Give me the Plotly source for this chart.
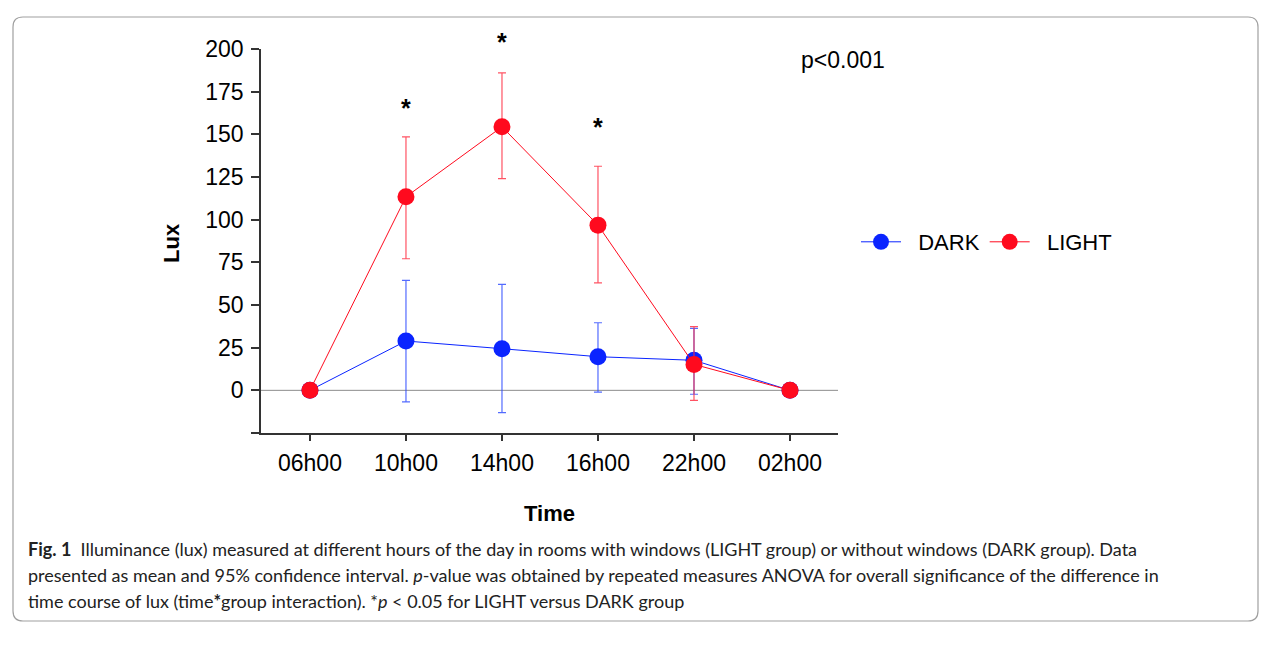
import plotly.graph_objects as go

times = ["06h00", "10h00", "14h00", "16h00", "22h00", "02h00"]

dark_mean = [0, 28.9, 24.4, 19.7, 17.6, 0]
dark_upper = [0, 64.4, 62.1, 39.6, 36.3, 0]
dark_lower = [0, -6.8, -13.1, -1.0, -2.3, 0]

light_mean = [0, 113.4, 154.4, 96.8, 15.2, 0]
light_upper = [0, 148.5, 186.0, 131.3, 37.3, 0]
light_lower = [0, 77.1, 124.1, 63.0, -5.9, 0]

star_times = ["10h00", "14h00", "16h00"]
star_y = [175, 213.5, 163.5]

ytick_vals = [-25, 0, 25, 50, 75, 100, 125, 150, 175, 200]
ytick_text = ["", "0", "25", "50", "75", "100", "125", "150", "175", "200"]

caption_lines = [
    "<b>Fig. 1</b>  Illuminance (lux) measured at different hours of the day in rooms with windows (LIGHT group) or without windows (DARK group). Data",
    "presented as mean and 95% confidence interval. <i>p</i>-value was obtained by repeated measures ANOVA for overall significance of the difference in",
    "time course of lux (time<b>*</b>group interaction). *<i>p</i> < 0.05 for LIGHT versus DARK group",
]

OFF = 8  # browser body margin
W, H = 1280 - OFF, 655 - OFF
L, R, T, B = 261 - OFF, 1280 - 838, 49 - OFF, 655 - 433
PW, PH = W - L - R, H - T - B

YMIN, YMAX = -25, 200


def px(x):
    return (x - OFF - L) / PW


def py(y):
    return (H - B - (y - OFF)) / PH


def ydata_to_paper(v):
    return (v - YMIN) / (YMAX - YMIN)


BLUE = "#0a24ff"
RED = "#ff0a1e"
FONT = "Liberation Sans, Arial, sans-serif"
NB = "\u00a0"

fig = go.Figure()

for name, mean, up, lo, col, ecol in [
    ("DARK", dark_mean, dark_upper, dark_lower, BLUE, "rgba(40,70,255,0.8)"),
    ("LIGHT", light_mean, light_upper, light_lower, RED, "rgba(255,40,60,0.8)"),
]:
    fig.add_trace(go.Scatter(
        x=times, y=mean, name=NB * 2 + name, mode="lines+markers",
        line=dict(color=col, width=1),
        marker=dict(color=col, size=17),
        error_y=dict(type="data", symmetric=False,
                     array=[u - m for u, m in zip(up, mean)],
                     arrayminus=[m - l for m, l in zip(mean, lo)],
                     color=ecol, thickness=1.2, width=4),
    ))

for t, y in zip(star_times, star_y):
    fig.add_annotation(x=t, y=ydata_to_paper(y), xref="x", yref="paper", text="<b>*</b>",
                       showarrow=False, font=dict(family=FONT, size=25, color="black"))

fig.add_annotation(x=px(799), y=py(60), xref="paper", yref="paper", text="p<0.001",
                   xanchor="left", yanchor="middle", showarrow=False,
                   font=dict(family=FONT, size=23, color="black"))

fig.add_annotation(x=px(549), y=py(513), xref="paper", yref="paper", text="<b>Time</b>",
                   showarrow=False, xanchor="center", yanchor="middle",
                   font=dict(family=FONT, size=22, color="black"))
fig.add_annotation(x=px(172), y=py(243), xref="paper", yref="paper", text="<b>Lux</b>",
                   showarrow=False, textangle=-90, xanchor="center", yanchor="middle",
                   font=dict(family=FONT, size=22, color="black"))

for i, line in enumerate(caption_lines):
    fig.add_annotation(x=px(26), y=py(549 + 26 * i), xref="paper", yref="paper", text=line,
                       showarrow=False, xanchor="left", yanchor="middle",
                       font=dict(family="Lato, sans-serif", size=18, color="#222"))

# zero reference line
fig.add_shape(type="line", xref="paper", yref="y", x0=0, x1=1, y0=0, y1=0,
              line=dict(color="#8c8c8c", width=1), layer="below")

# rounded border
x0, x1, y0, y1, r = px(13), px(1258), py(17), py(621), 10
rx, ry = r / PW, r / PH
path = (f"M {x0+rx},{y0} L {x1-rx},{y0} Q {x1},{y0} {x1},{y0-ry} "
        f"L {x1},{y1+ry} Q {x1},{y1} {x1-rx},{y1} L {x0+rx},{y1} Q {x0},{y1} {x0},{y1+ry} "
        f"L {x0},{y0-ry} Q {x0},{y0} {x0+rx},{y0} Z")
fig.add_shape(type="path", xref="paper", yref="paper", path=path,
              line=dict(color="#a0a0a0", width=1.2), layer="below")

fig.update_layout(
    width=W, height=H,
    margin=dict(l=L, r=R, t=T, b=B, autoexpand=False),
    plot_bgcolor="white", paper_bgcolor="white",
    font=dict(family=FONT, size=23, color="black"),
    showlegend=True,
    legend=dict(orientation="h", x=px(856), y=py(242), xanchor="left", yanchor="middle",
                font=dict(family=FONT, size=22, color="black"), itemwidth=40,
                bgcolor="rgba(0,0,0,0)", tracegroupgap=0),
    xaxis=dict(type="category", range=[-0.51, 5.5], showline=True, linecolor="#333",
               linewidth=1.5, ticks="outside", ticklen=6, tickcolor="#333", tickwidth=1.5,
               showgrid=False, zeroline=False, ticklabelstandoff=3,
               tickfont=dict(family=FONT, size=23, color="black")),
    yaxis=dict(range=[YMIN, YMAX], showline=True, linecolor="#333", linewidth=1.5,
               ticks="outside", ticklen=8, tickcolor="#333", tickwidth=1.5,
               tickvals=ytick_vals, ticktext=ytick_text, showgrid=False, zeroline=False,
               ticklabelstandoff=3,
               tickfont=dict(family=FONT, size=23, color="black")),
)

fig.write_html("out.html")
